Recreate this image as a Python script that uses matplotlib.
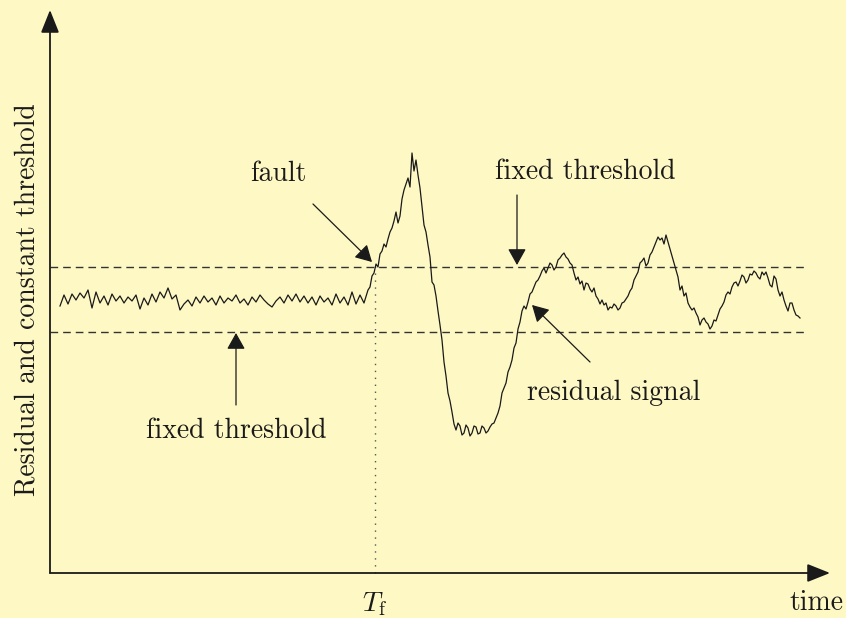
import numpy as np
import matplotlib
matplotlib.use("Agg")
import matplotlib.pyplot as plt

plt.rcParams['font.family'] = ['cmr10', 'DejaVu Serif']
plt.rcParams['mathtext.fontset'] = 'cm'
plt.rcParams['axes.unicode_minus'] = False

# ---- data -------------------------------------------------------------
fault_time = 3.25       # T_f
upper_threshold = 306
lower_threshold = 241

# residual before the fault (t = 0.10 ... 3.14, step 0.04)
pre_start, pre_step = 0.10, 0.04
pre_fault_residual = [
    267, 278, 269, 279, 273, 280, 275, 283, 265, 281, 270, 277, 268, 279, 272, 277,
    270, 276, 272, 278, 264, 275, 268, 279, 271, 281, 275, 285, 274, 278, 263, 269,
    273, 267, 276, 270, 277, 271, 275, 268, 277, 270, 275, 272, 278, 270, 274, 268,
    276, 271, 278, 273, 269, 266, 272, 276, 270, 278, 272, 279, 271, 277, 270, 276,
    268, 277, 271, 275, 268, 279, 270, 276, 268, 281, 269, 278, 270,
]

# residual after the fault (t = 3.18 ... , step 0.02)
post_start, post_step = 3.18, 0.02
post_fault_residual = [
    283, 286, 297, 300, 309, 306, 319, 322, 329, 326, 334, 341, 345, 352, 361, 350,
    357, 374, 383, 389, 395, 386, 420, 402, 413, 398, 385, 366, 348, 341, 328, 316,
    291, 288, 277, 262, 248, 233, 211, 197, 180, 172, 161, 149, 143, 150, 147, 138,
    140, 148, 145, 137, 140, 147, 146, 139, 140, 147, 145, 140, 142, 146, 149, 150,
    155, 160, 167, 180, 185, 190, 201, 206, 213, 225, 230, 244, 251, 262, 267, 264,
    271, 279, 281, 286, 291, 293, 297, 302, 305, 300, 305, 310, 308, 303, 306, 313,
    315, 318, 320, 316, 314, 310, 308, 300, 293, 296, 289, 292, 283, 290, 289, 284,
    281, 285, 277, 274, 269, 273, 268, 270, 263, 266, 265, 269, 267, 263, 265, 270,
    271, 274, 277, 282, 285, 293, 297, 301, 310, 312, 315, 307, 310, 318, 321, 326,
    331, 336, 333, 335, 329, 338, 331, 324, 317, 310, 303, 296, 283, 287, 277, 280,
    270, 266, 263, 265, 260, 256, 248, 253, 255, 251, 249, 244, 247, 253, 252, 258,
    264, 267, 271, 278, 281, 279, 286, 290, 291, 287, 292, 298, 296, 290, 293, 299,
    298, 302, 300, 296, 294, 301, 298, 301, 295, 288, 286, 297, 294, 283, 277, 281,
    273, 267, 262, 270, 270, 263, 258, 257, 255,
]

time = np.concatenate([
    pre_start + pre_step * np.arange(len(pre_fault_residual)),
    post_start + post_step * np.arange(len(post_fault_residual)),
])
residual = np.array(pre_fault_residual + post_fault_residual)

# ---- figure -----------------------------------------------------------
bg = '#fef8c4'
fig = plt.figure(figsize=(8.46, 6.18), dpi=100, facecolor=bg)
ax = fig.add_axes([0, 0, 1, 1], facecolor=bg)
ax.set_xlim(-0.5, 7.96)
ax.set_ylim(-45, 573)
ax.axis('off')

ink = '#1a1a1a'
fs = 20

# axes arrows
axis_props = dict(arrowstyle='-|>,head_length=0.7,head_width=0.28', color=ink,
                  lw=1.3, shrinkA=0, shrinkB=0, mutation_scale=20)
ax.annotate('', xy=(0, 563), xytext=(0, 0), arrowprops=axis_props)
ax.annotate('', xy=(7.80, 0), xytext=(0, 0), arrowprops=axis_props)

# thresholds
for th in (upper_threshold, lower_threshold):
    ax.plot([0, 7.55], [th, th], color='#333333', lw=1.0, ls=(0, (5.5, 3.6)))

# fault time
ax.plot([fault_time, fault_time], [0, 308], color='#555555', lw=1.0, ls=(0, (1, 4)))

# residual signal
ax.plot(time, residual, color=ink, lw=0.9)

# labels
ax.text(-0.23, 273, 'Residual and constant threshold', rotation=90, fontsize=fs,
        ha='center', va='center', color=ink)
ax.text(fault_time, -31, r'$T_\mathrm{f}$', fontsize=fs, ha='center', va='center', color=ink)
ax.text(7.935, -37, 'time', fontsize=fs, ha='right', va='baseline', color=ink)
ax.text(2.28, 399, 'fault', fontsize=fs, ha='center', va='center', color=ink)
ax.text(5.35, 401, 'fixed threshold', fontsize=fs, ha='center', va='center', color=ink)
ax.text(1.86, 142, 'fixed threshold', fontsize=fs, ha='center', va='center', color=ink)
ax.text(5.64, 180, 'residual signal', fontsize=fs, ha='center', va='center', color=ink)

# annotation arrows
ann_props = dict(arrowstyle='-|>,head_length=0.5,head_width=0.28', color=ink,
                 lw=0.9, shrinkA=0, shrinkB=0, mutation_scale=20)
ax.annotate('', xy=(3.22, 311), xytext=(2.63, 369), arrowprops=ann_props)
ax.annotate('', xy=(4.67, 308), xytext=(4.67, 378), arrowprops=ann_props)
ax.annotate('', xy=(1.86, 240), xytext=(1.86, 168), arrowprops=ann_props)
ax.annotate('', xy=(4.82, 268), xytext=(5.40, 211), arrowprops=ann_props)

fig.savefig('out.png', dpi=100, facecolor=bg)
